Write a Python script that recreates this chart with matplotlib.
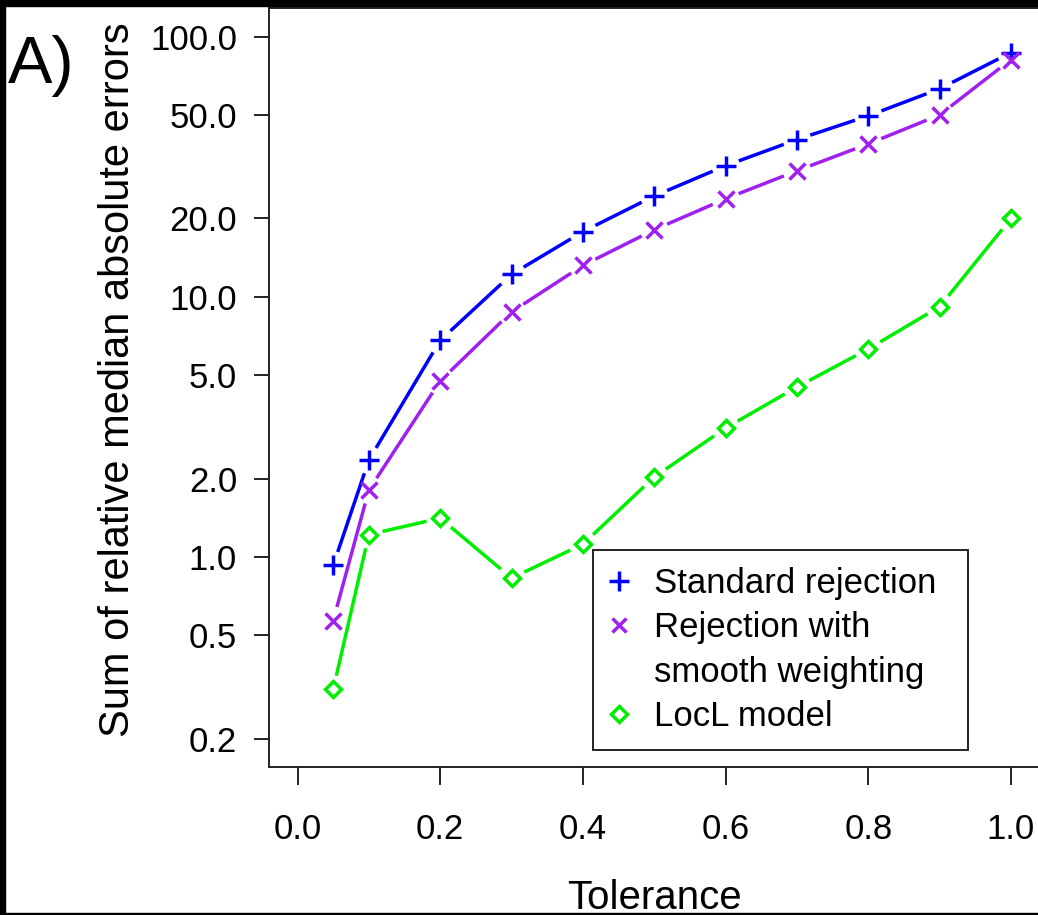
import numpy as np
import matplotlib
matplotlib.use("Agg")
import matplotlib.pyplot as plt
from matplotlib.lines import Line2D
from matplotlib.patches import Rectangle

plt.rcParams['font.family'] = ['Liberation Sans', 'DejaVu Sans']

# tolerance levels and summed relative median absolute errors
tolerance = [0.05, 0.1, 0.2, 0.3, 0.4, 0.5, 0.6, 0.7, 0.8, 0.9, 1.0]
standard_rej = [0.93, 2.36, 6.8, 12.2, 17.8, 24.4, 31.9, 40.2, 49.6, 63.0, 86.8]
smooth_rej = [0.57, 1.81, 4.75, 8.75, 13.2, 18.1, 23.8, 30.5, 38.7, 50.0, 81.6]
locl_model = [0.31, 1.22, 1.41, 0.83, 1.12, 2.03, 3.13, 4.5, 6.3, 9.16, 20.0]

x_ticks = [0.0, 0.2, 0.4, 0.6, 0.8, 1.0]
x_ticklabels = ["0.0", "0.2", "0.4", "0.6", "0.8", "1.0"]
y_ticks = [0.2, 0.5, 1.0, 2.0, 5.0, 10.0, 20.0, 50.0, 100.0]
y_ticklabels = ["0.2", "0.5", "1.0", "2.0", "5.0", "10.0", "20.0", "50.0", "100.0"]

W, H = 1038, 915
fig = plt.figure(figsize=(W / 100, H / 100), dpi=100, facecolor="white")

# plot region in pixels (right edge runs just past the image)
left, right, bottom, top = 269, 1039.5, 767, 8.5
ax = fig.add_axes([left / W, (H - bottom) / H, (right - left) / W, (bottom - top) / H])
ax.set_yscale("log")

# R style 4% padding around the nominal ranges
ax.set_xlim(-0.04, 1.04)
lo, hi = np.log10(0.2), np.log10(100)
pad = 0.04 * (hi - lo)
ax.set_ylim(10 ** (lo - pad), 10 ** (hi + pad))

ax.set_xticks(x_ticks)
ax.set_xticklabels(x_ticklabels)
ax.set_yticks(y_ticks)
ax.set_yticklabels(y_ticklabels)
ax.yaxis.set_minor_locator(matplotlib.ticker.NullLocator())
ax.tick_params(axis="both", labelsize=25, width=1.4, color="#222222", direction="out")
ax.tick_params(axis="x", length=13, pad=20)
ax.tick_params(axis="y", length=11, pad=12)
for sp in ax.spines.values():
    sp.set_linewidth(1.4)
    sp.set_color("#222222")

ax.set_xlabel("Tolerance", fontsize=29, labelpad=24)
ax.set_ylabel("Sum of relative median absolute errors", fontsize=30, labelpad=9)
ax.yaxis.label.set_y(0.51)

LW = 2.5


def gapped_line(xs, ys, color, gap=14):
    # type="b" look: segments stop short of each point
    pts = ax.transData.transform(np.column_stack([xs, ys]))
    inv = ax.transData.inverted()
    for p0, p1 in zip(pts[:-1], pts[1:]):
        d = p1 - p0
        L = np.hypot(*d)
        if L <= 2 * gap:
            continue
        u = d / L
        seg = inv.transform(np.array([p0 + u * gap, p1 - u * gap]))
        ax.plot(seg[:, 0], seg[:, 1], color=color, lw=LW, solid_capstyle="butt")


series = [
    (standard_rej, "#0000FF", "+", 15),
    (smooth_rej, "#A020F0", "x", 11),
    (locl_model, "#00EE00", "D", 8.5),
]
for ys, col, mk, ms in series:
    gapped_line(tolerance, ys, col)
    ax.plot(tolerance, ys, ls="none", marker=mk, ms=ms, mew=LW,
            mec=col, mfc="none")

handles = [
    Line2D([], [], ls="none", marker="+", ms=14, mew=LW, color="#0000FF"),
    Line2D([], [], ls="none", marker="x", ms=10, mew=LW, color="#A020F0"),
    Line2D([], [], ls="none", marker="none"),
    Line2D([], [], ls="none", marker="D", ms=8, mew=LW, mec="#00EE00", mfc="none"),
]
labels = ["Standard rejection", "Rejection with", "smooth weighting", "LocL model"]
leg = ax.legend(handles, labels, loc="upper left", mode="expand",
                bbox_to_anchor=(593 / W, 1 - 550 / H, 375 / W, 0.0),
                bbox_transform=fig.transFigure,
                fontsize=25, frameon=True, fancybox=False, framealpha=1,
                edgecolor="#222222", borderaxespad=0, borderpad=0.5,
                handlelength=0.5, handletextpad=0.75, labelspacing=0.32)
leg.get_frame().set_linewidth(1.4)

fig.text(8 / W, 1 - 83 / H, "A)", fontsize=48, va="baseline", ha="left")

# black frame around the panel
for x0, y0, w, h in [(0, 0, 5, H), (0, H - 6, W, 6), (0, 0, W, 2)]:
    fig.patches.append(Rectangle((x0 / W, y0 / H), w / W, h / H, color="black",
                                 transform=fig.transFigure, figure=fig, zorder=10))

fig.savefig("out.png", dpi=100)
